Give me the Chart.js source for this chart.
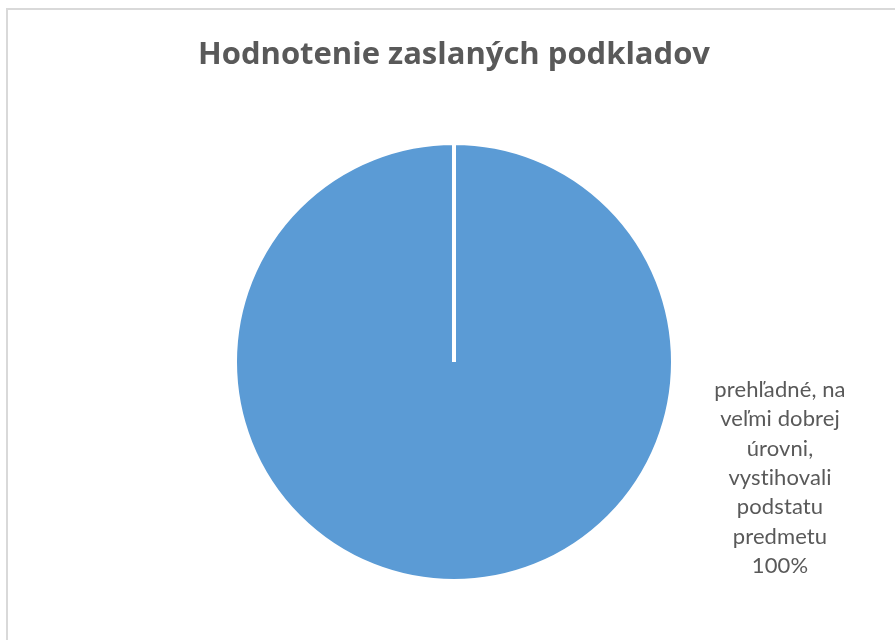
<!DOCTYPE html>
<html>
<head>
<meta charset="utf-8">
<script src="https://cdn.jsdelivr.net/npm/chart.js@4"></script>
<style>
  html, body { margin: 0; padding: 0; background: #fff; overflow: hidden; }
  #frame { position: absolute; left: 6px; top: 8px; width: 1000px; height: 1000px; border: 2px solid #D9D9D9; box-sizing: border-box; }
  #c { position: absolute; left: 0; top: 0; }
</style>
</head>
<body>
<div id="frame"></div>
<canvas id="c" width="895" height="640"></canvas>
<script>
const titleText = "Hodnotenie zaslaných podkladov";
const categories = ["prehľadné, na veľmi dobrej úrovni, vystihovali podstatu predmetu"];
const labelLines = [["prehľadné, na", "veľmi dobrej", "úrovni,", "vystihovali", "podstatu", "predmetu"]];
const values = [100];
const sliceColors = ["#5B9BD5"];

const labelPlugin = {
  id: 'sideLabels',
  afterDatasetsDraw(chart) {
    const ctx = chart.ctx;
    const meta = chart.getDatasetMeta(0);
    const total = values.reduce((a, b) => a + b, 0);
    meta.data.forEach((arc, i) => {
      const lines = labelLines[i].concat([Math.round(values[i] / total * 100) + "%"]);
      const cx = arc.x + arc.outerRadius + 107;
      const lh = 29.3;
      const startY = arc.y + 35;
      ctx.save();
      ctx.font = '22px Lato, "Liberation Sans", sans-serif';
      try { ctx.letterSpacing = '0.1px'; } catch (e) {}
      ctx.fillStyle = '#595959';
      ctx.textAlign = 'center';
      ctx.textBaseline = 'alphabetic';
      lines.forEach((t, k) => ctx.fillText(t, cx, startY + k * lh));
      ctx.restore();
    });
  }
};

new Chart(document.getElementById('c'), {
  type: 'pie',
  data: {
    labels: categories,
    datasets: [{
      data: values,
      backgroundColor: sliceColors,
      borderColor: '#FFFFFF',
      borderWidth: 4,
      hoverOffset: 0
    }]
  },
  options: {
    responsive: false,
    devicePixelRatio: 1,
    animation: false,
    layout: { padding: { top: 0, bottom: 57, left: 198, right: 185 } },
    plugins: {
      legend: { display: false },
      tooltip: { enabled: false },
      title: {
        display: true,
        text: titleText,
        color: '#595959',
        font: { family: '"Open Sans", sans-serif', size: 31, weight: 'bold' },
        padding: { top: 37, bottom: 66.8 }
      }
    }
  },
  plugins: [labelPlugin]
});
</script>
</body>
</html>
